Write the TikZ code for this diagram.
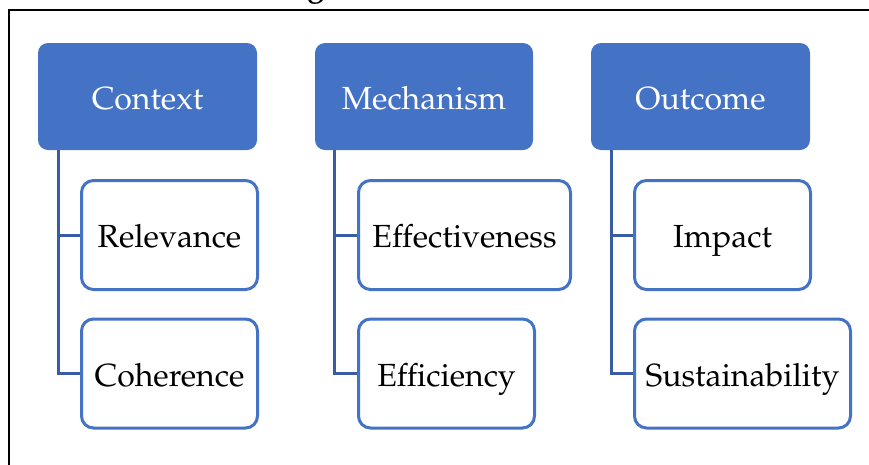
\documentclass[tikz,border=0pt]{standalone}
\usepackage[T1]{fontenc}
\usepackage{mathpazo}
\definecolor{hdrblue}{RGB}{68,114,196}
\definecolor{lineblue}{RGB}{58,92,166}
\tikzset{
  boxtext/.style={font=\fontsize{32}{38}\selectfont, text height=29pt, text depth=4pt},
  hdr/.style={boxtext, draw=none, fill=hdrblue, rounded corners=10pt, text=white,
    minimum height=107pt, inner sep=0pt},
  child/.style={boxtext, draw=hdrblue, line width=3pt, fill=white, rounded corners=12pt,
    minimum height=109pt, inner sep=0pt},
  conn/.style={draw=lineblue, line width=3pt},
  frameline/.style={draw=black, line width=2.5pt}
}
\begin{document}
\begin{tikzpicture}[x=1pt,y=-1pt]
\useasboundingbox (0,0) rectangle (869,464);
\draw[frameline] (9,466) -- (9,10) -- (871,10);
\node[anchor=base, font=\bfseries\fontsize{30}{36}\selectfont] (ttl) at (316,-4) {g};
% headers
\node[hdr, minimum width=219pt] (ctx) at (147.5,96.5) {Context};
\node[hdr, minimum width=218pt] (mec) at (424,96.5) {Mechanism};
\node[hdr, minimum width=219pt] (out) at (700.5,96.5) {Outcome};
% children
\node[child, minimum width=176pt] (rel) at (169.5,235) {Relevance};
\node[child, minimum width=176pt] (coh) at (169.5,373.5) {Coherence};
\node[child, minimum width=212pt] (eff) at (464.5,235) {Effectiveness};
\node[child, minimum width=176pt] (efc) at (446.5,373.5) {Efficiency};
\node[child, minimum width=176pt] (imp) at (722.5,235) {Impact};
\node[child, minimum width=216pt] (sus) at (742.5,373.5) {Sustainability};
% connectors
\draw[conn] ([xshift=21pt]ctx.south west) |- (rel.west);
\draw[conn] ([xshift=21pt]ctx.south west) |- (coh.west);
\draw[conn] ([xshift=20pt]mec.south west) |- (eff.west);
\draw[conn] ([xshift=20pt]mec.south west) |- (efc.west);
\draw[conn] ([xshift=21pt]out.south west) |- (imp.west);
\draw[conn] ([xshift=21pt]out.south west) |- (sus.west);
\end{tikzpicture}
\end{document}
